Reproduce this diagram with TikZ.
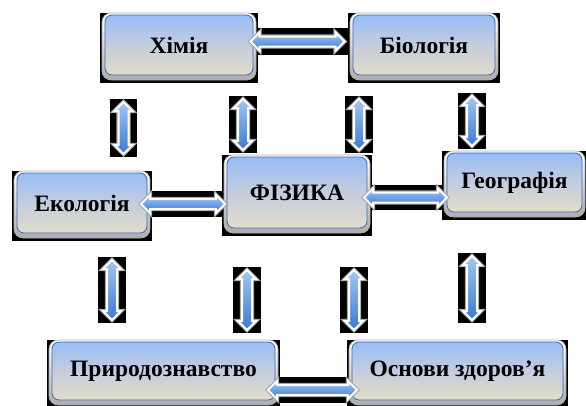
\documentclass[tikz,border=0pt]{standalone}
\usepackage{fontspec}
\setmainfont{Liberation Serif}
\usetikzlibrary{shapes.arrows}
\definecolor{boxtop}{RGB}{152,189,247}
\definecolor{boxmid}{RGB}{196,205,222}
\definecolor{boxbot}{RGB}{226,221,201}
\definecolor{boxline}{RGB}{58,102,186}
\definecolor{arrlight}{RGB}{160,198,246}
\definecolor{arrdark}{RGB}{62,122,210}
\tikzset{
  boxframe/.style={rounded corners=9pt, top color=white, bottom color=gray!65, draw=gray!60, line width=0.6pt},
  boxinner/.style={rectangle, rounded corners=7pt, top color=boxtop, bottom color=boxbot, middle color=boxmid, draw=boxline, line width=0.8pt, inner sep=0pt},
  lbl/.style={font=\bfseries\fontsize{23.5}{25}\selectfont, text=black},
  arrowbase/.style={double arrow, double arrow head extend=4pt, inner sep=4pt, minimum width=16pt,
    top color=arrlight, bottom color=arrdark, draw=white, line width=2pt,
    preaction={draw=gray!70, line width=4.2pt}},
  harrow/.style={arrowbase},
  varrow/.style={arrowbase, shape border rotate=90},
}
% subject box: name, x1, y1, x2, y2, text
\newcommand{\subjbox}[6]{%
  \fill[black] ({#2-5},{#3-2}) rectangle ({#4+5},{#5+8});
  \path[boxframe] ({#2-3},{#3-2}) rectangle ({#4+3},{#5+5});
  \node[boxinner, lbl, minimum width={(#4-#2)*1pt}, minimum height={(#5-#3)*1pt}] (#1) at ({(#2+#4)/2},{(#3+#5)/2}) {#6};
}
% arrow: name, cx, cy, length, style
\newcommand{\linkarrow}[5]{%
  \node[#5, minimum height={#4*1pt}] (#1) at (#2,#3) {};
}
\begin{document}
\begin{tikzpicture}[x=1pt,y=-1pt]
\useasboundingbox (0,0) rectangle (586,405);
\fill[white] (0,0) rectangle (586,405);

% black backgrounds of arrows
\fill[black] (247,28) rectangle (348,55);
\fill[black] (138,191) rectangle (228,217);
\fill[black] (361,185) rectangle (450,210);
\fill[black] (265,377) rectangle (360,403);
\fill[black] (110,99) rectangle (137,157);
\fill[black] (229,96) rectangle (257,153);
\fill[black] (345,96) rectangle (373,153);
\fill[black] (458,93) rectangle (486,149);
\fill[black] (98,257) rectangle (126,323);
\fill[black] (233,267) rectangle (261,333);
\fill[black] (340,267) rectangle (368,333);
\fill[black] (458,253) rectangle (486,323);

% boxes
\subjbox{him}{105}{15}{253}{75}{Хімія}
\subjbox{bio}{353}{15}{495}{75}{Біологія}
\subjbox{eco}{17}{173}{147}{233}{Екологія}
\subjbox{phys}{227}{157}{367}{228}{ФІЗИКА}
\subjbox{geo}{447}{153}{582}{212}{Географія}
\subjbox{prir}{52}{342}{275}{400}{Природознавство}
\subjbox{osn}{352}{342}{563}{400}{Основи здоров’я}

% horizontal arrows
\linkarrow{a1}{297.5}{41.5}{94}{harrow}
\linkarrow{a2}{183}{204}{84}{harrow}
\linkarrow{a3}{405.5}{197.5}{83}{harrow}
\linkarrow{a4}{312.5}{390}{89}{harrow}
% vertical arrows
\linkarrow{v1}{123.5}{128}{52}{varrow}
\linkarrow{v2}{243}{124.5}{51}{varrow}
\linkarrow{v3}{359}{124.5}{51}{varrow}
\linkarrow{v4}{472}{121}{50}{varrow}
\linkarrow{v5}{112}{290}{60}{varrow}
\linkarrow{v6}{247}{300}{60}{varrow}
\linkarrow{v7}{354}{300}{60}{varrow}
\linkarrow{v8}{472}{288}{64}{varrow}
\end{tikzpicture}
\end{document}
